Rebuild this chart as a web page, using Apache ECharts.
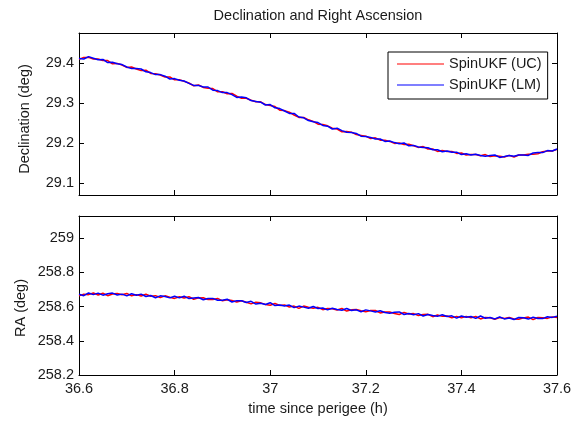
<!DOCTYPE html>
<html>
<head>
<meta charset="utf-8">
<script src="https://cdn.jsdelivr.net/npm/echarts@6/dist/echarts.min.js"></script>
<style>
  html, body { margin: 0; padding: 0; background: #fff; }
  #chart { width: 586px; height: 422px; }
</style>
</head>
<body>
<div id="chart"></div>
<script>
// time since perigee (h)
var time = [
  36.60, 36.61, 36.62, 36.63, 36.64, 36.65, 36.66, 36.67, 36.68, 36.69,
  36.70, 36.71, 36.72, 36.73, 36.74, 36.75, 36.76, 36.77, 36.78, 36.79,
  36.80, 36.81, 36.82, 36.83, 36.84, 36.85, 36.86, 36.87, 36.88, 36.89,
  36.90, 36.91, 36.92, 36.93, 36.94, 36.95, 36.96, 36.97, 36.98, 36.99,
  37.00, 37.01, 37.02, 37.03, 37.04, 37.05, 37.06, 37.07, 37.08, 37.09,
  37.10, 37.11, 37.12, 37.13, 37.14, 37.15, 37.16, 37.17, 37.18, 37.19,
  37.20, 37.21, 37.22, 37.23, 37.24, 37.25, 37.26, 37.27, 37.28, 37.29,
  37.30, 37.31, 37.32, 37.33, 37.34, 37.35, 37.36, 37.37, 37.38, 37.39,
  37.40, 37.41, 37.42, 37.43, 37.44, 37.45, 37.46, 37.47, 37.48, 37.49,
  37.50, 37.51, 37.52, 37.53, 37.54, 37.55, 37.56, 37.57, 37.58, 37.59,
  37.60
];

// declination (deg)
var decUC = [
  29.410, 29.415, 29.415, 29.411, 29.411, 29.407, 29.407, 29.399, 29.400, 29.396,
  29.390, 29.391, 29.386, 29.382, 29.383, 29.375, 29.374, 29.371, 29.366, 29.366,
  29.359, 29.359, 29.355, 29.351, 29.344, 29.346, 29.340, 29.338, 29.337, 29.329,
  29.329, 29.324, 29.325, 29.318, 29.313, 29.313, 29.308, 29.304, 29.304, 29.297,
  29.295, 29.292, 29.283, 29.282, 29.278, 29.271, 29.265, 29.265, 29.259, 29.255,
  29.248, 29.247, 29.244, 29.238, 29.236, 29.229, 29.230, 29.228, 29.222, 29.220,
  29.218, 29.212, 29.214, 29.208, 29.208, 29.205, 29.200, 29.201, 29.197, 29.198,
  29.194, 29.190, 29.192, 29.186, 29.186, 29.180, 29.182, 29.180, 29.180, 29.175,
  29.176, 29.171, 29.172, 29.172, 29.169, 29.172, 29.167, 29.169, 29.168, 29.166,
  29.170, 29.166, 29.171, 29.171, 29.173, 29.173, 29.174, 29.179, 29.181, 29.181,
  29.185
];
var decLM = [
  29.412, 29.411, 29.417, 29.413, 29.409, 29.410, 29.402, 29.403, 29.399, 29.397,
  29.391, 29.387, 29.387, 29.386, 29.379, 29.377, 29.372, 29.372, 29.368, 29.361,
  29.362, 29.358, 29.356, 29.350, 29.345, 29.345, 29.341, 29.341, 29.333, 29.332,
  29.327, 29.327, 29.322, 29.315, 29.316, 29.314, 29.307, 29.305, 29.303, 29.296,
  29.297, 29.289, 29.287, 29.281, 29.275, 29.275, 29.266, 29.264, 29.257, 29.254,
  29.252, 29.245, 29.243, 29.236, 29.238, 29.232, 29.228, 29.227, 29.225, 29.218,
  29.217, 29.215, 29.211, 29.211, 29.205, 29.206, 29.202, 29.199, 29.201, 29.194,
  29.195, 29.191, 29.190, 29.189, 29.184, 29.184, 29.179, 29.181, 29.178, 29.178,
  29.172, 29.174, 29.171, 29.173, 29.170, 29.168, 29.170, 29.171, 29.165, 29.167,
  29.170, 29.168, 29.171, 29.171, 29.170, 29.176, 29.177, 29.177, 29.182, 29.181,
  29.186
];

// right ascension (deg)
var raUC = [
  258.663, 258.673, 258.670, 258.680, 258.668, 258.678, 258.664, 258.674, 258.677, 258.669,
  258.677, 258.663, 258.670, 258.662, 258.672, 258.661, 258.664, 258.653, 258.663, 258.655,
  258.648, 258.658, 258.650, 258.658, 258.643, 258.651, 258.652, 258.641, 258.642, 258.648,
  258.634, 258.640, 258.636, 258.627, 258.634, 258.625, 258.616, 258.626, 258.622, 258.613,
  258.608, 258.618, 258.607, 258.610, 258.598, 258.603, 258.590, 258.603, 258.596, 258.590,
  258.596, 258.582, 258.589, 258.588, 258.580, 258.589, 258.574, 258.581, 258.583, 258.576,
  258.570, 258.577, 258.577, 258.563, 258.569, 258.568, 258.560, 258.554, 258.566, 258.557,
  258.559, 258.548, 258.554, 258.555, 258.541, 258.551, 258.543, 258.545, 258.534, 258.543,
  258.534, 258.543, 258.535, 258.542, 258.528, 258.537, 258.535, 258.526, 258.536, 258.530,
  258.537, 258.528, 258.526, 258.534, 258.539, 258.524, 258.536, 258.535, 258.531, 258.540,
  258.537
];
var raLM = [
  258.672, 258.664, 258.680, 258.670, 258.679, 258.667, 258.675, 258.679, 258.668, 258.673,
  258.663, 258.675, 258.666, 258.673, 258.659, 258.665, 258.652, 258.663, 258.659, 258.651,
  258.661, 258.651, 258.661, 258.647, 258.651, 258.653, 258.640, 258.648, 258.648, 258.637,
  258.637, 258.643, 258.627, 258.635, 258.634, 258.624, 258.631, 258.615, 258.620, 258.612,
  258.623, 258.606, 258.610, 258.603, 258.609, 258.594, 258.603, 258.597, 258.590, 258.601,
  258.589, 258.592, 258.581, 258.590, 258.583, 258.579, 258.589, 258.577, 258.581, 258.570,
  258.581, 258.575, 258.568, 258.576, 258.566, 258.561, 258.567, 258.569, 258.554, 258.560,
  258.553, 258.559, 258.545, 258.554, 258.548, 258.543, 258.552, 258.542, 258.546, 258.533,
  258.545, 258.538, 258.542, 258.531, 258.545, 258.532, 258.536, 258.528, 258.539, 258.528,
  258.533, 258.525, 258.536, 258.535, 258.527, 258.538, 258.531, 258.530, 258.541, 258.537,
  258.543
];

var timeTicks = [36.6, 36.8, 37, 37.2, 37.4, 37.6];
var decTicks = [29.1, 29.2, 29.3, 29.4];
var raTicks = [258.2, 258.4, 258.6, 258.8, 259];

var FONT = '"Liberation Sans", Arial, sans-serif';
var TXT = '#1a1a1a';

function pairs(ys) {
  return time.map(function (t, i) { return [t, ys[i]]; });
}

function xAx(grid, pos, labels, name) {
  return {
    type: 'value', gridIndex: grid, position: pos,
    min: 36.6, max: 37.6,
    name: name || '', nameLocation: 'middle', nameGap: 26,
    nameTextStyle: { fontFamily: FONT, fontSize: 14.5, color: TXT },
    axisLine: { show: true, onZero: false, lineStyle: { color: '#000', width: 1 } },
    axisTick: { show: true, inside: true, length: 5, customValues: timeTicks, lineStyle: { color: '#000' } },
    axisLabel: { show: labels, margin: 6, customValues: timeTicks, fontFamily: FONT, fontSize: 14.5, color: TXT },
    splitLine: { show: false }
  };
}

function yAx(grid, pos, labels, min, max, ticks) {
  return {
    type: 'value', gridIndex: grid, position: pos,
    min: min, max: max,
    axisLine: { show: true, onZero: false, lineStyle: { color: '#000', width: 1 } },
    axisTick: { show: true, inside: true, length: 5, customValues: ticks, lineStyle: { color: '#000' } },
    axisLabel: { show: labels, margin: 5, customValues: ticks, fontFamily: FONT, fontSize: 14.5, color: TXT },
    splitLine: { show: false }
  };
}

// rotated y-axis titles, placed like the original figure
function yTitle(text, x, y) {
  return {
    type: 'text', x: x, y: y, rotation: Math.PI / 2,
    style: { text: text, font: '14.5px ' + FONT, fill: TXT, align: 'center', verticalAlign: 'middle' }
  };
}

var chart = echarts.init(document.getElementById('chart'));
chart.setOption({
  animation: false,
  backgroundColor: '#fff',
  title: {
    text: 'Declination and Right Ascension',
    left: 318, top: 8, padding: 0, textAlign: 'center',
    textStyle: { fontFamily: FONT, fontSize: 14.5, fontWeight: 'normal', color: TXT }
  },
  legend: {
    data: ['SpinUKF (UC)', 'SpinUKF (LM)'],
    orient: 'vertical',
    left: 388, top: 52,
    padding: [4, 6, 6, 9],
    itemGap: 5,
    icon: 'rect',
    itemWidth: 47, itemHeight: 1,
    backgroundColor: '#fff',
    borderColor: '#000', borderWidth: 1, borderRadius: 0,
    textStyle: { fontFamily: FONT, fontSize: 14.5, color: TXT, lineHeight: 16 }
  },
  graphic: [
    yTitle('Declination (deg)', 25, 119),
    yTitle('RA (deg)', 21, 308)
  ],
  grid: [
    { left: 79, right: 29, top: 33, height: 162 },
    { left: 79, right: 29, top: 216, height: 159 }
  ],
  xAxis: [
    xAx(0, 'bottom', false),
    xAx(0, 'top', false),
    xAx(1, 'bottom', true, 'time since perigee (h)'),
    xAx(1, 'top', false)
  ],
  yAxis: [
    yAx(0, 'left', true, 29.071, 29.476, decTicks),
    yAx(0, 'right', false, 29.071, 29.476, decTicks),
    yAx(1, 'left', true, 258.2, 259.13, raTicks),
    yAx(1, 'right', false, 258.2, 259.13, raTicks)
  ],
  series: [
    { name: 'SpinUKF (UC)', type: 'line', xAxisIndex: 0, yAxisIndex: 0, data: pairs(decUC),
      symbol: 'none', color: '#ff0000', lineStyle: { width: 1.5, color: '#ff0000' } },
    { name: 'SpinUKF (LM)', type: 'line', xAxisIndex: 0, yAxisIndex: 0, data: pairs(decLM),
      symbol: 'none', color: '#0000ff', lineStyle: { width: 1.5, color: '#0000ff' } },
    { name: 'SpinUKF (UC)', type: 'line', xAxisIndex: 2, yAxisIndex: 2, data: pairs(raUC),
      symbol: 'none', color: '#ff0000', lineStyle: { width: 1.5, color: '#ff0000' } },
    { name: 'SpinUKF (LM)', type: 'line', xAxisIndex: 2, yAxisIndex: 2, data: pairs(raLM),
      symbol: 'none', color: '#0000ff', lineStyle: { width: 1.5, color: '#0000ff' } }
  ]
});
</script>
</body>
</html>
